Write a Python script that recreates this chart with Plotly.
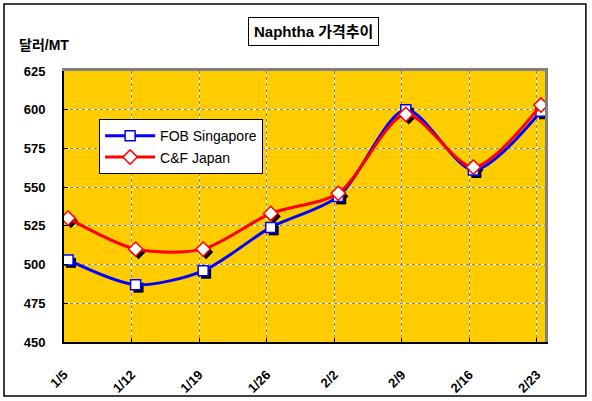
import plotly.graph_objects as go

dates = ["1/5", "1/12", "1/19", "1/26", "2/2", "2/9", "2/16", "2/23"]
fob_singapore = [503, 487, 496, 524, 544, 600, 561, 599]
cf_japan = [530, 510, 510, 533, 546, 597, 563, 603]
y_ticks = [450, 475, 500, 525, 550, 575, 600, 625]

idx = list(range(len(dates)))
FONT = "Liberation Sans, Arial, Noto Sans CJK KR, sans-serif"

fig = go.Figure()

# dummy traces so the base and grid axes render
fig.add_trace(go.Scatter(x=[None], y=[None], xaxis="x", yaxis="y", showlegend=False, hoverinfo="skip"))
fig.add_trace(go.Scatter(x=[None], y=[None], xaxis="x2", yaxis="y2", showlegend=False, hoverinfo="skip"))

# shadow markers (offset via axis ranges)
for vals, sym in [(fob_singapore, "square"), (cf_japan, "diamond")]:
    fig.add_trace(go.Scatter(x=idx, y=vals, mode="markers", xaxis="x3", yaxis="y3",
                             marker=dict(symbol=sym, size=10 if sym == "square" else 11,
                                         color="black", line=dict(width=0)),
                             showlegend=False, hoverinfo="skip"))

fig.add_trace(go.Scatter(x=idx, y=fob_singapore, name="FOB Singapore", mode="lines+markers",
                         xaxis="x4", yaxis="y4",
                         line=dict(color="#0000FF", width=3, shape="spline", smoothing=0.8),
                         marker=dict(symbol="square", size=10, color="white",
                                     line=dict(color="#0000FF", width=1.5))))
fig.add_trace(go.Scatter(x=idx, y=cf_japan, name="C&F Japan", mode="lines+markers",
                         xaxis="x4", yaxis="y4",
                         line=dict(color="#FF0000", width=3, shape="spline", smoothing=0.8),
                         marker=dict(symbol="diamond", size=11, color="white",
                                     line=dict(color="#FF0000", width=1.5))))

XR = [0, 7.12]
YR = [450, 625]
fig.update_layout(
    width=592, height=401,
    margin=dict(l=64, r=47, t=71, b=59, autoexpand=False),
    paper_bgcolor="white", plot_bgcolor="#FFCC00",
    font=dict(family=FONT, color="black"),
    xaxis=dict(range=XR, tickvals=idx, ticktext=dates, tickangle=-45,
               tickfont=dict(size=13, weight="bold"), ticklabelstandoff=18,
               showgrid=True, gridcolor="white", gridwidth=1,
               showline=True, linecolor="black", linewidth=2,
               ticks="inside", ticklen=4, tickcolor="black", zeroline=False, fixedrange=True),
    yaxis=dict(range=YR, tickvals=y_ticks, tickfont=dict(size=13, weight="bold"),
               ticklabelstandoff=14,
               showgrid=True, gridcolor="white", gridwidth=1,
               showline=True, linecolor="black", linewidth=2,
               ticks="inside", ticklen=4, tickcolor="black", zeroline=False, fixedrange=True),
    xaxis2=dict(range=XR, overlaying="x", side="top", tickvals=idx, showticklabels=False,
                showgrid=True, gridcolor="#8a8a8a", griddash="3px,3px", gridwidth=1,
                showline=True, linecolor="#808080", linewidth=3, ticks="", zeroline=False),
    yaxis2=dict(range=YR, overlaying="y", side="right", tickvals=y_ticks, showticklabels=False,
                showgrid=True, gridcolor="#8a8a8a", griddash="3px,3px", gridwidth=1,
                showline=True, linecolor="#808080", linewidth=3, ticks="", zeroline=False),
    xaxis3=dict(range=[-0.104, 7.016], overlaying="x", visible=False),
    yaxis3=dict(range=[451.9, 626.9], overlaying="y", visible=False),
    xaxis4=dict(range=[-0.06, 7.06], overlaying="x", visible=False),
    yaxis4=dict(range=YR, overlaying="y", visible=False),
    legend=dict(x=0.073, y=0.822, xanchor="left", yanchor="top",
                bgcolor="white", bordercolor="black", borderwidth=1,
                font=dict(size=14, family=FONT), tracegroupgap=0, itemwidth=50,
                entrywidth=170, entrywidthmode="pixels"),
    showlegend=True,
)

fig.add_annotation(text="<b>Naphtha 가격추이</b>", xref="paper", yref="paper",
                   x=0.519, y=1.144, xanchor="center", yanchor="middle", showarrow=False,
                   font=dict(size=15, family=FONT), bgcolor="white",
                   bordercolor="black", borderwidth=1, borderpad=5)
fig.add_annotation(text="<b>달러/MT</b>", xref="paper", yref="paper",
                   x=-0.098, y=1.096, xanchor="left", yanchor="middle", showarrow=False,
                   font=dict(size=14, family=FONT))
fig.add_shape(type="rect", xref="paper", yref="paper",
              x0=-0.1247, x1=1.085, y0=-0.199, y1=1.247,
              line=dict(color="black", width=1.5), fillcolor="rgba(0,0,0,0)", layer="below")

fig.write_html("out.html", config={"displayModeBar": False},
               post_script="document.body.style.margin='0';")
